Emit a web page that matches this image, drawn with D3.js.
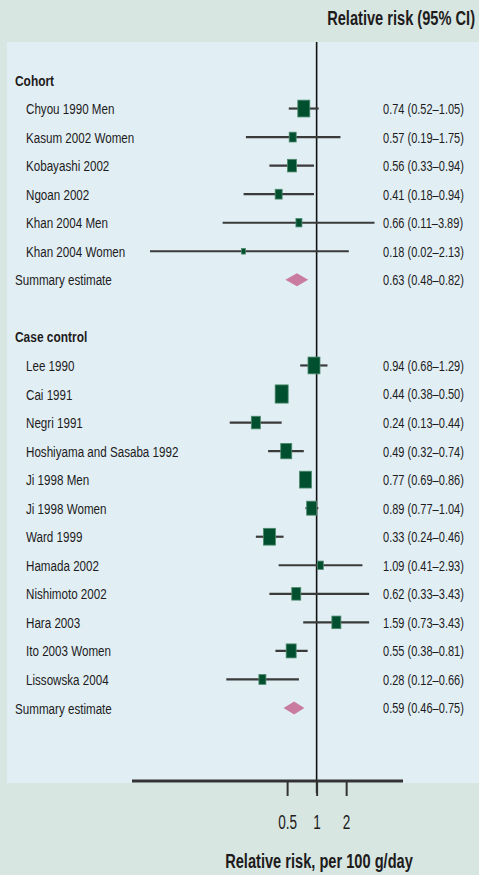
<!DOCTYPE html>
<html>
<head>
<meta charset="utf-8">
<script src="https://cdn.jsdelivr.net/npm/d3@7"></script>
<style>
  html, body { margin: 0; padding: 0; background: #d7e6e1; }
  svg { display: block; }
  text { font-family: "Liberation Sans", Arial, sans-serif; fill: #1e1b1c; }
</style>
</head>
<body>
<svg id="chart" width="479" height="875"></svg>
<script>
// Cohort studies
const cohortStudies = ["Chyou 1990 Men", "Kasum 2002 Women", "Kobayashi 2002", "Ngoan 2002", "Khan 2004 Men", "Khan 2004 Women"];
const cohortRR = [0.74, 0.57, 0.56, 0.41, 0.66, 0.18];
const cohortLow = [0.52, 0.19, 0.33, 0.18, 0.11, 0.02];
const cohortHigh = [1.05, 1.75, 0.94, 0.94, 3.89, 2.13];
const cohortWeight = [14.4, 4.9, 8.1, 4.9, 3.6, 1.6];
const cohortSummary = [0.63, 0.48, 0.82];

// Case-control studies
const caseStudies = ["Lee 1990", "Cai 1991", "Negri 1991", "Hoshiyama and Sasaba 1992", "Ji 1998 Men", "Ji 1998 Women", "Ward 1999", "Hamada 2002", "Nishimoto 2002", "Hara 2003", "Ito 2003 Women", "Lissowska 2004"];
const caseRR = [0.94, 0.44, 0.24, 0.49, 0.77, 0.89, 0.33, 1.09, 0.62, 1.59, 0.55, 0.28];
const caseLow = [0.68, 0.38, 0.13, 0.32, 0.69, 0.77, 0.24, 0.41, 0.33, 0.73, 0.38, 0.12];
const caseHigh = [1.29, 0.50, 0.44, 0.74, 0.86, 1.04, 0.46, 2.93, 3.43, 3.43, 0.81, 0.66];
const caseWeight = [14.4, 16.9, 8.1, 12.1, 14.4, 10, 14.4, 3.6, 8.1, 8.1, 10, 4.9];
const caseSummary = [0.59, 0.46, 0.75];

const groupNames = ["Cohort", "Case control"];
const summaryLabel = "Summary estimate";
const axisTicks = [0.5, 1, 2];
const axisDomain = [0.0131, 7.6];
const headerTitle = "Relative risk (95% CI)";
const axisTitle = "Relative risk, per 100 g/day";

const fmt = v => v.toFixed(2);
const ciText = (rr, lo, hi) => `${fmt(rr)} (${fmt(lo)}\u2013${fmt(hi)})`;

const svg = d3.select("#chart");

// Condensed text: squeeze a regular face horizontally around its anchor
function addText(parent, tx, ty, str, o) {
  return parent.append("text")
    .attr("transform", `translate(${tx},${ty}) scale(${o.squeeze},1)`)
    .attr("text-anchor", o.anchor || "start")
    .attr("dy", o.dy || null)
    .attr("font-size", o.size)
    .attr("font-weight", o.bold ? "bold" : "normal")
    .text(str);
}

// Build row list
const rows = [];
rows.push({ type: "header", label: groupNames[0] });
cohortStudies.forEach((s, i) => rows.push({ type: "study", label: s, rr: cohortRR[i], lo: cohortLow[i], hi: cohortHigh[i], w: cohortWeight[i] }));
rows.push({ type: "summary", label: summaryLabel, rr: cohortSummary[0], lo: cohortSummary[1], hi: cohortSummary[2] });
rows.push({ type: "blank" });
rows.push({ type: "header", label: groupNames[1] });
caseStudies.forEach((s, i) => rows.push({ type: "study", label: s, rr: caseRR[i], lo: caseLow[i], hi: caseHigh[i], w: caseWeight[i] }));
rows.push({ type: "summary", label: summaryLabel, rr: caseSummary[0], lo: caseSummary[1], hi: caseSummary[2] });
rows.forEach((r, i) => r.idx = i);

const x = d3.scaleLog().domain(axisDomain).range([132, 403]);
const y = d3.scalePoint().domain(rows.map(r => r.idx)).range([80, 708]);
const size = d3.scaleSqrt().domain([0, 16.9]).range([0, 13]);

// Panel background
svg.append("rect").attr("x", 7).attr("y", 42).attr("width", 472).attr("height", 741).attr("fill", "#e1eff5");

// Header
addText(svg, 475, 25, headerTitle, { size: 19.5, bold: true, squeeze: 0.75, anchor: "end" });

// Labels and estimates
const labels = svg.append("g");
rows.filter(r => r.type !== "blank").forEach(r => {
  const isHeader = r.type === "header";
  addText(labels, r.type === "study" ? 26 : 15, y(r.idx), r.label,
    { size: 15.5, bold: isHeader, squeeze: isHeader ? 0.77 : 0.75, dy: "0.36em" });
  if (!isHeader) {
    addText(labels, 383, y(r.idx), ciText(r.rr, r.lo, r.hi), { size: 15, squeeze: 0.735, dy: "0.36em" });
  }
});

// Reference line at RR = 1
svg.append("line").attr("x1", x(1)).attr("x2", x(1)).attr("y1", 42).attr("y2", 793)
  .attr("stroke", "#111").attr("stroke-width", 1.6);

// Confidence intervals and weighted boxes
const marks = svg.append("g");
const studies = rows.filter(r => r.type === "study");
marks.selectAll("line.ci").data(studies).join("line")
  .attr("class", "ci")
  .attr("x1", d => x(d.lo)).attr("x2", d => x(d.hi))
  .attr("y1", d => y(d.idx)).attr("y2", d => y(d.idx))
  .attr("stroke", "#3a3a3a").attr("stroke-width", 2.2);
marks.selectAll("rect.box").data(studies).join("rect")
  .attr("class", "box")
  .attr("x", d => x(d.rr) - size(d.w) / 2)
  .attr("y", d => y(d.idx) - size(d.w) * 0.7)
  .attr("width", d => size(d.w))
  .attr("height", d => size(d.w) * 1.4)
  .attr("fill", "#00502f")
  .attr("stroke", "#4f8a6c").attr("stroke-width", 0.8);

// Summary diamonds
const summaries = rows.filter(r => r.type === "summary");
marks.selectAll("path.diamond").data(summaries).join("path")
  .attr("class", "diamond")
  .attr("d", d => {
    const cy = y(d.idx);
    return `M${x(d.lo)},${cy} L${x(d.rr)},${cy - 6.5} L${x(d.hi)},${cy} L${x(d.rr)},${cy + 6.5} Z`;
  })
  .attr("fill", "#c97ba0");

// Axis
const axisY = 781;
svg.append("line").attr("x1", x.range()[0]).attr("x2", x.range()[1])
  .attr("y1", axisY).attr("y2", axisY)
  .attr("stroke", "#333").attr("stroke-width", 3);
const axis = svg.append("g").attr("transform", `translate(0,${axisY})`)
  .call(d3.axisBottom(x).tickValues(axisTicks).tickFormat(() => "").tickSize(15));
axis.select(".domain").remove();
axis.selectAll(".tick line").attr("stroke", "#333").attr("stroke-width", 2);
axis.selectAll(".tick").each(function (d) {
  addText(d3.select(this), 0, 48, d3.format("")(d), { size: 20, squeeze: 0.68, anchor: "middle" });
});

// Axis title
addText(svg, 319, 868, axisTitle, { size: 19.5, bold: true, squeeze: 0.75, anchor: "middle" });
</script>
</body>
</html>
